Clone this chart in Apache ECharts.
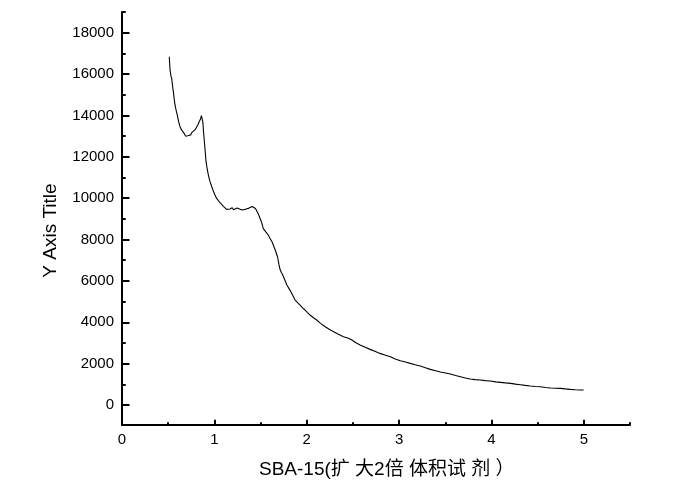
<!DOCTYPE html>
<html>
<head>
<meta charset="utf-8">
<title>SBA-15</title>
<script src="https://cdn.jsdelivr.net/npm/echarts@6/dist/echarts.min.js"></script>
<style>
  html, body { margin: 0; padding: 0; background: #fff; }
  #chart { width: 696px; height: 489px; }
</style>
</head>
<body>
<div id="chart"></div>
<script>
// x 值
var xValues = [
  0.512, 0.520, 0.530, 0.538, 0.548, 0.556, 0.565, 0.574, 0.586, 0.599,
  0.613, 0.628, 0.645, 0.663, 0.675, 0.688, 0.699, 0.712, 0.725, 0.743,
  0.757, 0.771, 0.790, 0.810, 0.823, 0.835, 0.848, 0.860, 0.867, 0.875,
  0.883, 0.892, 0.901, 0.910, 0.923, 0.935, 0.953, 0.972, 0.988, 1.007,
  1.023, 1.043, 1.061, 1.079, 1.098, 1.115, 1.133, 1.153, 1.169, 1.193,
  1.208, 1.225, 1.245, 1.260, 1.280, 1.295, 1.307, 1.325, 1.345, 1.357,
  1.375, 1.394, 1.410, 1.429, 1.445, 1.458, 1.475, 1.494, 1.510, 1.529,
  1.555, 1.583, 1.603, 1.624, 1.641, 1.659, 1.684, 1.699, 1.713, 1.729,
  1.749, 1.767, 1.785, 1.807, 1.828, 1.851, 1.874, 1.901, 1.928, 1.955,
  1.982, 2.009, 2.036, 2.069, 2.108, 2.149, 2.200, 2.243, 2.291, 2.343,
  2.398, 2.453, 2.489, 2.533, 2.578, 2.633, 2.686, 2.738, 2.793, 2.853,
  2.906, 2.958, 3.014, 3.068, 3.121, 3.173, 3.229, 3.285, 3.339, 3.394,
  3.448, 3.502, 3.556, 3.612, 3.664, 3.717, 3.771, 3.822, 3.879, 3.932,
  3.987, 4.046, 4.098, 4.151, 4.206, 4.261, 4.313, 4.366, 4.421, 4.476,
  4.529, 4.584, 4.639, 4.694, 4.747, 4.799, 4.854, 4.909, 4.959, 4.998
];

// y 值
var yValues = [
  16840, 16200, 15900, 15795, 15400, 15150, 14800, 14505, 14250, 14020,
  13700, 13456, 13300, 13214, 13120, 13000, 13088, 13020, 13110, 13060,
  13180, 13185, 13300, 13344, 13560, 13698, 13800, 13988, 13850, 13698,
  13200, 12731, 12250, 11763, 11400, 11120, 10800, 10555, 10350, 10154,
  10000, 9912, 9780, 9752, 9600, 9510, 9460, 9520, 9480, 9540,
  9440, 9477, 9520, 9558, 9460, 9500, 9428, 9520, 9480, 9558,
  9520, 9510, 9600, 9588, 9500, 9428, 9250, 9027, 8850, 8543,
  8380, 8220, 8050, 7896, 7700, 7494, 7170, 6800, 6527, 6380,
  6203, 6000, 5802, 5640, 5478, 5280, 5077, 4950, 4835, 4700,
  4593, 4470, 4352, 4230, 4110, 3950, 3786, 3660, 3544, 3420,
  3302, 3230, 3143, 3010, 2901, 2790, 2691, 2600, 2497, 2410,
  2336, 2230, 2143, 2080, 2014, 1950, 1886, 1800, 1724, 1660,
  1596, 1550, 1499, 1430, 1370, 1310, 1257, 1230, 1209, 1180,
  1160, 1120, 1096, 1070, 1048, 1010, 983, 950, 919, 900,
  886, 850, 822, 815, 806, 780, 757, 740, 730, 725
];

// 刻度
var xMajorTicks = [0, 1, 2, 3, 4, 5];
var xMinorTicks = [0.5, 1.5, 2.5, 3.5, 4.5, 5.5];
var yMajorTicks = [0, 2000, 4000, 6000, 8000, 10000, 12000, 14000, 16000, 18000];
var yMinorTicks = [1000, 3000, 5000, 7000, 9000, 11000, 13000, 15000, 17000, 19000];

var xTitle = 'SBA-15(扩 大2倍 体积试 剂 ）';
var yTitle = 'Y Axis Title';

var FONT = '"Liberation Sans", Arial, "Noto Sans CJK SC", sans-serif';

var chart = echarts.init(document.getElementById('chart'), null, { renderer: 'canvas' });

var seriesData = [];
for (var i = 0; i < xValues.length; i++) {
    seriesData.push([xValues[i], yValues[i]]);
}

var axisColor = '#000';

// 不要千分位
function plainNum(v) {
    return String(v);
}

var option = {
    animation: false,
    backgroundColor: '#fff',
    grid: {
        left: 122,
        right: 66,
        top: 12,
        bottom: 64.3
    },
    xAxis: [
        {
            type: 'value',
            min: 0,
            max: 5.5,
            axisLine: { show: true, onZero: false, lineStyle: { color: axisColor, width: 2 } },
            axisTick: { show: true, inside: true, length: 5, customValues: xMajorTicks, lineStyle: { color: axisColor, width: 2 } },
            axisLabel: { customValues: xMajorTicks, margin: 8, color: '#000', fontSize: 15, fontFamily: FONT, formatter: plainNum },
            splitLine: { show: false }
        },
        {
            type: 'value',
            min: 0,
            max: 5.5,
            position: 'bottom',
            axisLine: { show: false, onZero: false },
            axisTick: { show: true, inside: true, length: 2.5, customValues: xMinorTicks, lineStyle: { color: axisColor, width: 2 } },
            axisLabel: { show: false },
            splitLine: { show: false }
        }
    ],
    yAxis: [
        {
            type: 'value',
            min: -950,
            max: 19000,
            axisLine: { show: true, onZero: false, lineStyle: { color: axisColor, width: 2 } },
            axisTick: { show: true, inside: true, length: 7.5, customValues: yMajorTicks, lineStyle: { color: axisColor, width: 2 } },
            axisLabel: { customValues: yMajorTicks, margin: 8, color: '#000', fontSize: 15, fontFamily: FONT, formatter: plainNum },
            splitLine: { show: false }
        },
        {
            type: 'value',
            min: -950,
            max: 19000,
            position: 'left',
            axisLine: { show: false, onZero: false },
            axisTick: { show: true, inside: true, length: 3.7, customValues: yMinorTicks, lineStyle: { color: axisColor, width: 2 } },
            axisLabel: { show: false },
            splitLine: { show: false }
        }
    ],
    graphic: [
        {
            type: 'text',
            x: 51,
            y: 230.5,
            rotation: Math.PI / 2,
            style: {
                text: yTitle,
                fill: '#000',
                font: '19px ' + FONT,
                textAlign: 'center',
                textVerticalAlign: 'middle'
            }
        },
        {
            type: 'text',
            x: 259,
            y: 469.5,
            style: {
                text: xTitle,
                fill: '#000',
                font: '19px ' + FONT,
                textAlign: 'left',
                textVerticalAlign: 'middle'
            }
        }
    ],
    series: [
        {
            type: 'line',
            xAxisIndex: 0,
            yAxisIndex: 0,
            data: seriesData,
            showSymbol: false,
            symbol: 'none',
            lineStyle: { color: '#000', width: 1.1 },
            silent: true
        }
    ]
};

chart.setOption(option);
</script>
</body>
</html>
